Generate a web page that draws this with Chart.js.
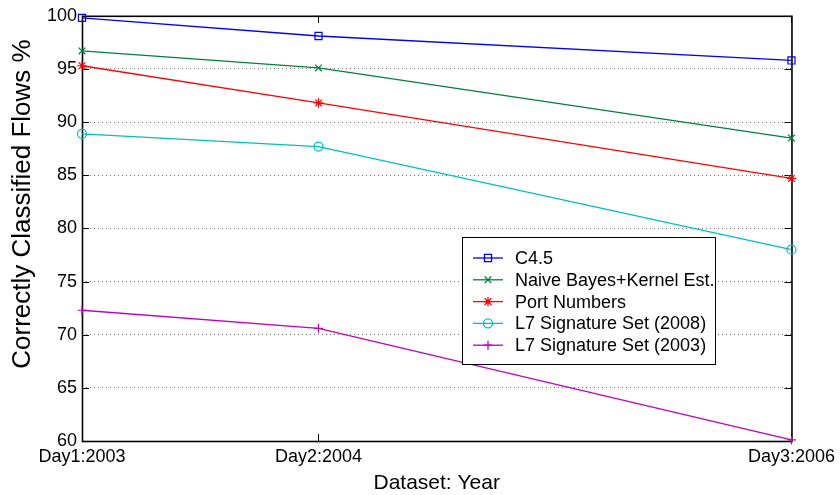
<!DOCTYPE html>
<html>
<head>
<meta charset="utf-8">
<script src="https://cdn.jsdelivr.net/npm/chart.js@4.4.0/dist/chart.umd.min.js"></script>
<style>
  html, body { margin: 0; padding: 0; background: #fff; }
</style>
</head>
<body>
<canvas id="lineChart" width="840" height="495"></canvas>
<script>
// x positions are years, so Day3 (2006) sits twice as far from Day2 as Day2 from Day1
let years = [2003, 2004, 2006]
let tickNames = ['Day1:2003', 'Day2:2004', 'Day3:2006']
let yTicks = [60, 65, 70, 75, 80, 85, 90, 95, 100]

let seriesNames = ['C4.5', 'Naive Bayes+Kernel Est.', 'Port Numbers', 'L7 Signature Set (2008)', 'L7 Signature Set (2003)']
let c45 = [99.8, 98.1, 95.8]
let naiveBayes = [96.7, 95.1, 88.5]
let portNumbers = [95.3, 91.8, 84.7]
let l7sig2008 = [88.9, 87.7, 78.0]
let l7sig2003 = [72.3, 70.6, 60.1]

let FONT = '"Liberation Sans", Arial, Helvetica, sans-serif'

function makeSet(label, values, color, style, radius) {
  return {
    label: label,
    data: values.map((v, i) => ({ x: years[i], y: v })),
    borderColor: color,
    backgroundColor: color,
    borderWidth: 1.3,
    pointStyle: style,
    pointRadius: radius,
    pointBorderWidth: 1.2,
    pointBorderColor: color,
    pointBackgroundColor: 'rgba(0,0,0,0)',
    tension: 0,
    fill: false,
    clip: false
  }
}

// box, inward ticks, axis titles and the boxed legend (matlab look)
const frame = {
  id: 'frame',
  beforeDatasetsDraw(chart) {
    let ctx = chart.ctx, a = chart.chartArea
    let xs = chart.scales.x, ys = chart.scales.y
    ctx.save()
    ctx.strokeStyle = '#000'
    ctx.lineWidth = 1.6
    ctx.strokeRect(a.left + 0.5, a.top + 0.5, a.right - a.left, a.bottom - a.top)
    ctx.lineWidth = 1
    ctx.beginPath()
    yTicks.forEach(v => {
      let y = Math.round(ys.getPixelForValue(v)) + 0.5
      ctx.moveTo(a.left, y); ctx.lineTo(a.left + 7, y)
      ctx.moveTo(a.right, y); ctx.lineTo(a.right - 7, y)
    })
    years.forEach(v => {
      let x = Math.round(xs.getPixelForValue(v)) + 0.5
      ctx.moveTo(x, a.bottom); ctx.lineTo(x, a.bottom - 7)
      ctx.moveTo(x, a.top); ctx.lineTo(x, a.top + 7)
    })
    ctx.stroke()

    ctx.fillStyle = '#000'
    ctx.textAlign = 'center'
    ctx.textBaseline = 'middle'
    ctx.font = '21px ' + FONT
    ctx.fillText('Dataset: Year', (a.left + a.right) / 2, 483)
    ctx.translate(23, 204)
    ctx.rotate(-Math.PI / 2)
    ctx.font = '26px ' + FONT
    ctx.fillText('Correctly Classified Flows %', 0, 0)
    ctx.restore()
  },
  afterDatasetsDraw(chart) {
    let ctx = chart.ctx
    ctx.save()
    ctx.fillStyle = '#fff'
    ctx.fillRect(462, 237, 253, 127)
    ctx.strokeStyle = '#000'
    ctx.lineWidth = 1
    ctx.strokeRect(462.5, 237.5, 253, 127)
    chart.data.datasets.forEach((ds, i) => {
      let y = 258 + i * 21.8
      ctx.strokeStyle = ds.borderColor
      ctx.lineWidth = ds.borderWidth
      ctx.beginPath()
      ctx.moveTo(473, y); ctx.lineTo(503, y)
      ctx.stroke()
      ctx.fillStyle = 'rgba(0,0,0,0)'
      Chart.helpers.drawPoint(ctx, { pointStyle: ds.pointStyle, radius: ds.pointRadius, rotation: 0, borderWidth: ds.pointBorderWidth }, 488, y)
      ctx.fillStyle = '#000'
      ctx.font = '18px ' + FONT
      ctx.textAlign = 'left'
      ctx.textBaseline = 'middle'
      ctx.fillText(ds.label, 515, y + 1)
    })
    ctx.restore()
  }
}

let ctx = document.getElementById('lineChart').getContext('2d')
let myChart = new Chart(ctx, {
  type: 'line',
  data: {
    datasets: [
      makeSet(seriesNames[0], c45, '#0000ff', 'rect', 5),
      makeSet(seriesNames[1], naiveBayes, '#00803c', 'crossRot', 4.7),
      makeSet(seriesNames[2], portNumbers, '#ff0000', 'star', 4.7),
      makeSet(seriesNames[3], l7sig2008, '#00bfbf', 'circle', 4.5),
      makeSet(seriesNames[4], l7sig2003, '#bf00bf', 'cross', 4.5)
    ]
  },
  options: {
    responsive: false,
    animation: false,
    layout: { padding: { top: 14, right: 47, left: 0, bottom: 0 } },
    plugins: { legend: { display: false }, tooltip: { enabled: false } },
    scales: {
      x: {
        type: 'linear',
        min: 2003,
        max: 2006,
        afterBuildTicks: s => { s.ticks = years.map(v => ({ value: v })) },
        afterFit: s => { s.height = 54 },
        ticks: {
          autoSkip: false,
          maxRotation: 0,
          padding: 5,
          color: '#000',
          font: { family: FONT, size: 18 },
          callback: v => tickNames[years.indexOf(v)]
        },
        grid: { display: false, drawTicks: false },
        border: { display: false }
      },
      y: {
        min: 60,
        max: 100,
        afterBuildTicks: s => { s.ticks = yTicks.map(v => ({ value: v })) },
        afterFit: s => { s.width = 82 },
        ticks: {
          padding: 5,
          color: '#000',
          font: { family: FONT, size: 18 }
        },
        grid: {
          drawTicks: false,
          lineWidth: 1,
          color: c => (c.tick && (c.tick.value === 60 || c.tick.value === 100)) ? 'rgba(0,0,0,0)' : 'rgba(0,0,0,0.55)'
        },
        border: { display: false, dash: [1, 3] }
      }
    }
  },
  plugins: [frame]
})
</script>
</body>
</html>
